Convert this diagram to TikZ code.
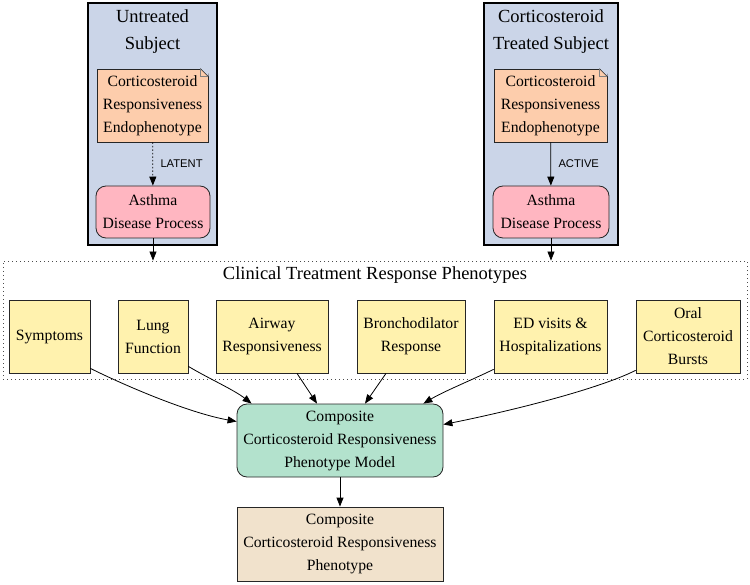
\documentclass[tikz,border=0pt]{standalone}
\usepackage{fontspec}
\setmainfont{Liberation Serif}
\newfontfamily\edgefont{Liberation Sans}
\usepackage{tikz}
\usetikzlibrary{arrows.meta}
\definecolor{clusterblue}{HTML}{CBD5E8}
\definecolor{endofill}{HTML}{FDCDAC}
\definecolor{diseasefill}{HTML}{FFB6C1}
\definecolor{phenofill}{HTML}{FFF2AE}
\definecolor{modelfill}{HTML}{B3E2CD}
\definecolor{outfill}{HTML}{F1E2CC}
\tikzset{nodefont/.style={font=\fontsize{15.7}{23}\selectfont},
	cluster/.style={draw=black,line width=2pt,fill=clusterblue,minimum height=242pt,inner sep=0pt},
	ctitle/.style={align=center,font=\fontsize{18.5}{27}\selectfont},
	box/.style={nodefont,align=center,draw=black!85,line width=0.8pt,inner sep=0pt},
	endo/.style={box,fill=endofill,minimum height=73pt},
	disease/.style={box,fill=diseasefill,rounded corners=10pt,minimum height=52pt},
	phenobox/.style={box,fill=phenofill,minimum height=73pt},
	modelbox/.style={box,fill=modelfill,rounded corners=10pt,minimum width=206pt,minimum height=73pt},
	outbox/.style={box,fill=outfill,minimum width=206pt,minimum height=74pt},
	arr/.style={-{Triangle[length=9pt,width=7pt]},line width=0.8pt},
	elabel/.style={font=\edgefont\fontsize{11.2}{13}\selectfont,anchor=west}}
\newcommand{\notefold}[1]{%
  \fill[clusterblue] ([xshift=-8pt]#1.north east) -- ([shift={(1pt,1pt)}]#1.north east)
    -- ([yshift=-8pt]#1.north east) -- cycle;
  \draw[draw=black!85,line width=0.6pt] ([xshift=-8pt]#1.north east) -- ([yshift=-8pt]#1.north east);
  \draw[draw=black!50,line width=0.4pt] ([xshift=-8pt]#1.north east) -- ([shift={(-8pt,-8pt)}]#1.north east)
    -- ([yshift=-8pt]#1.north east);}

\begin{document}
\begin{tikzpicture}[x=1pt,y=-1pt]
\useasboundingbox (0,0) rectangle (750,585);
% subject clusters
\node [cluster,minimum width=129pt] (untreated) at (152.5,124) {};
\node [cluster,minimum width=134pt] (treated) at (551,124) {};
\node [ctitle] (tU) at (152.5,31.5) {Untreated\\Subject};
\node [ctitle] (tT) at (551,31.5) {Corticosteroid\\Treated Subject};
\node [endo,minimum width=111pt] (endoU) at (152.5,105.5) {Corticosteroid\\Responsiveness\\Endophenotype};
\node [endo,minimum width=113pt] (endoT) at (550.5,105.5) {Corticosteroid\\Responsiveness\\Endophenotype};
\notefold{endoU}
\notefold{endoT}
\node [disease,minimum width=114pt] (asthU) at (153,212) {Asthma\\Disease Process};
\node [disease,minimum width=116pt] (asthT) at (551,212) {Asthma\\Disease Process};
\draw [arr,dash pattern=on 1.5pt off 2pt] (endoU) -- (asthU)
  node [elabel,midway,xshift=4pt] (latent) {LATENT};
\draw [arr] (endoT) -- (asthT)
  node [elabel,midway,xshift=4pt] (active) {ACTIVE};
% clinical phenotypes
\node [draw=black!70,line width=0.9pt,dash pattern=on 1pt off 3pt,minimum width=744pt,minimum height=118pt,inner sep=0pt] (clin) at (375,320) {};
\node [ctitle] (tC) at (375,275) {Clinical Treatment Response Phenotypes};
\node [phenobox,minimum width=81pt] (sym) at (49.5,336.5) {Symptoms};
\node [phenobox,minimum width=70pt] (lung) at (153,336.5) {Lung\\Function};
\node [phenobox,minimum width=112pt] (airway) at (272,336.5) {Airway\\Responsiveness};
\node [phenobox,minimum width=108pt] (bronch) at (411,336.5) {Bronchodilator\\Response};
\node [phenobox,minimum width=113pt] (ed) at (550.5,336.5) {ED visits \&\\Hospitalizations};
\node [phenobox,minimum width=104pt] (oral) at (688,336.5) {Oral\\Corticosteroid\\Bursts};
\draw [arr] (asthU) -- (asthU |- clin.north);
\draw [arr] (asthT) -- (asthT |- clin.north);
% composite
\node [modelbox] (model) at (340,440.5) {Composite\\Corticosteroid Responsiveness\\Phenotype Model};
\node [outbox] (pheno) at (340,544) {Composite\\Corticosteroid Responsiveness\\Phenotype};
\draw [arr] ([yshift=5pt]sym.south east) .. controls +(30,15) and +(-50,-9) .. ([yshift=19pt]model.west);
\draw [arr] ([yshift=7pt]lung.south east) .. controls +(20,12) and +(-18,-14) .. ([xshift=15pt]model.north west);
\draw [arr] ([xshift=25pt]airway.south) -- ([xshift=-23pt]model.north);
\draw [arr] ([xshift=-25pt]bronch.south) -- ([xshift=25pt]model.north);
\draw [arr] ([yshift=4pt]ed.south west) .. controls +(-25,12) and +(20,-12) .. ([xshift=-20pt]model.north east);
\draw [arr] ([yshift=3pt]oral.south west) .. controls +(-40,20) and +(60,-12) .. ([yshift=16pt]model.east);
\draw [arr] (model) -- (pheno);
\end{tikzpicture}
\end{document}
